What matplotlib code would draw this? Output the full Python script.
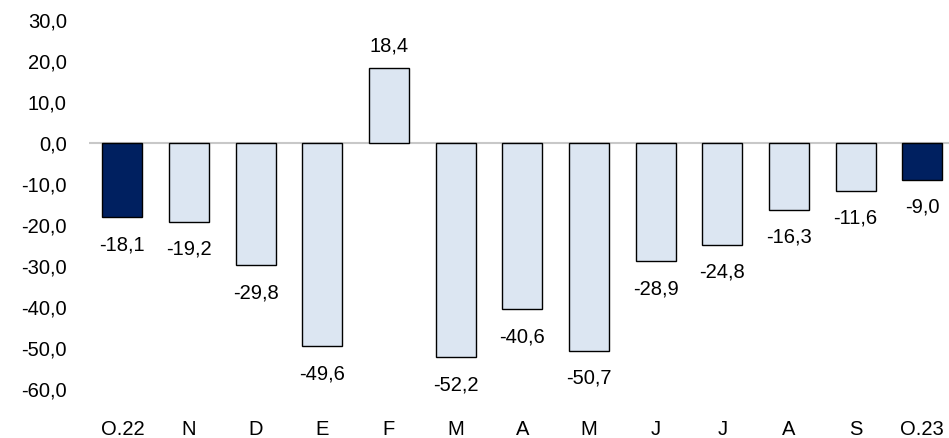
import matplotlib
matplotlib.use("Agg")
import matplotlib.pyplot as plt
from matplotlib.ticker import FixedLocator, FuncFormatter

categories = ["O.22", "N", "D", "E", "F", "M", "A", "M", "J", "J", "A", "S", "O.23"]
values = [-18.1, -19.2, -29.8, -49.6, 18.4, -52.2, -40.6, -50.7, -28.9, -24.8, -16.3, -11.6, -9.0]
highlight = [True] + [False] * 11 + [True]
yticks = [30, 20, 10, 0, -10, -20, -30, -40, -50, -60]

plt.rcParams['font.family'] = ['Liberation Sans', 'DejaVu Sans']
FS = 14.5

W, H = 949, 438
fig = plt.figure(figsize=(W / 100, H / 100), dpi=100)
ax = fig.add_axes([89 / W, 1 - 389 / H, (949 - 89) / W, (389 - 20) / H])

x = list(range(len(categories)))
colors = ["#002060" if h else "#DCE6F2" for h in highlight]
ax.bar(x, values, width=0.6, color=colors, edgecolor="black", linewidth=1.0, zorder=3)
ax.axhline(0, color="#C8C8C8", linewidth=1.5, zorder=2)

for xi, v in zip(x, values):
    s = f"{v:.1f}".replace(".", ",")
    if v >= 0:
        ax.annotate(s, (xi, v), xytext=(0, 12), textcoords="offset pixels",
                    ha="center", va="bottom", fontsize=FS)
    else:
        ax.annotate(s, (xi, v), xytext=(0, -18), textcoords="offset pixels",
                    ha="center", va="top", fontsize=FS)

ax.set_xlim(-0.5, 12.4)
ax.set_ylim(-60, 30)
ax.yaxis.set_major_locator(FixedLocator(yticks))
ax.yaxis.set_major_formatter(FuncFormatter(lambda v, p: f"{v:.1f}".replace(".", ",")))
ax.set_xticks(x)
ax.set_xticklabels(categories)
ax.tick_params(axis="both", length=0, labelsize=FS)
ax.tick_params(axis="x", pad=22)
ax.tick_params(axis="y", pad=16)
for sp in ax.spines.values():
    sp.set_visible(False)

fig.savefig("out.png", dpi=100)
